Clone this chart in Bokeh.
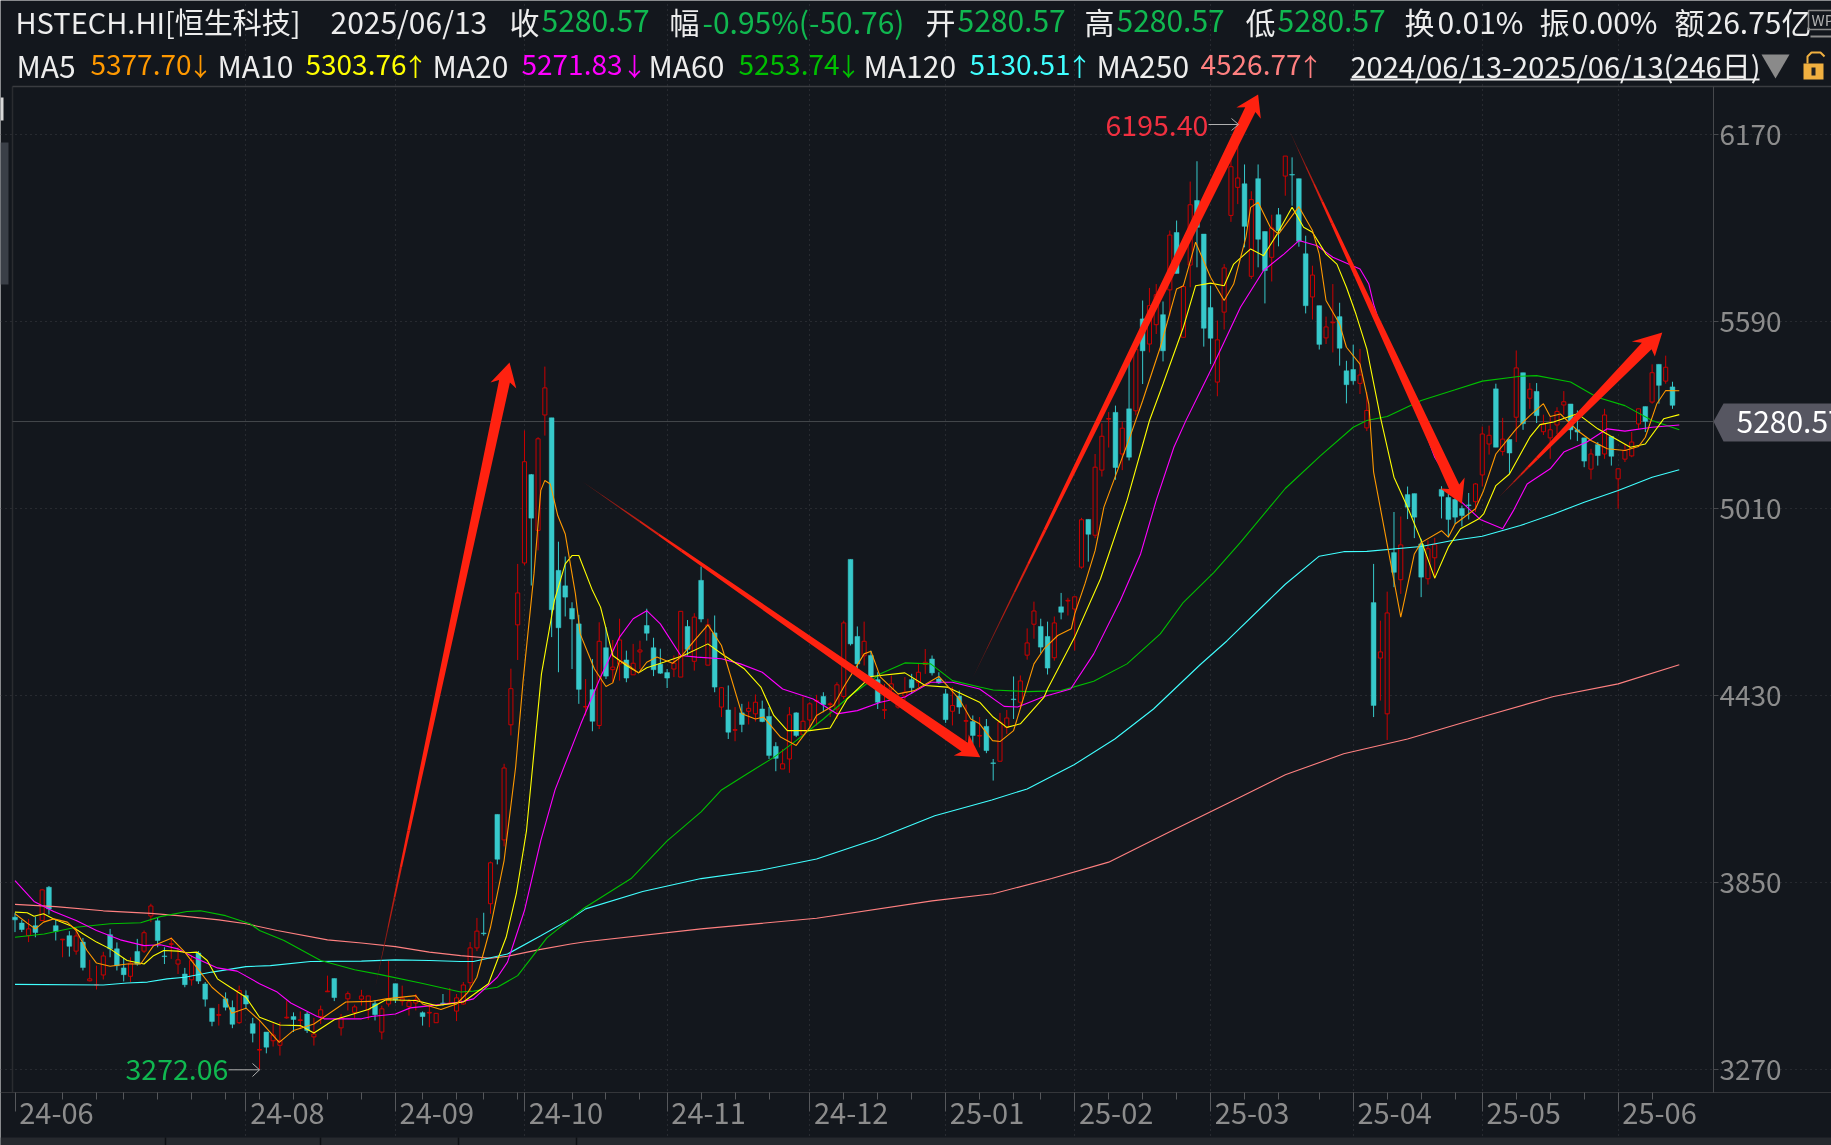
from bokeh.plotting import figure
from bokeh.embed import file_html
from bokeh.resources import INLINE
from bokeh.core.properties import value
from bokeh.models import LinearAxis, FixedTicker, Grid, Range1d

# ---------- candles (open, high, low, close) ----------
opens = [3743,3725,3686,3717,3733,3836,3717,3673,3686,3638,
 3666,3546,3533,3564,3689,3645,3586,3560,3637,3638,
 3747,3732,3623,3659,3598,3567,3549,3632,3536,3461,
 3439,3490,3463,3416,3500,3413,3331,3387,3360,3346,
 3431,3435,3423,3443,3372,3435,3512,3553,3400,3490,
 3448,3489,3456,3475,3387,3474,3537,3483,3466,3477,
 3447,3446,3416,3477,3475,3452,3474,3540,3648,3694,
 3785,4062,3983,4340,4650,4842,5116,4943,5301,5292,
 4819,4771,4701,4653,4395,4449,4338,4579,4511,4529,
 4541,4495,4566,4648,4579,4528,4502,4513,4488,4645,
 4537,4788,4525,4625,4395,4386,4323,4377,4382,4374,
 4389,4366,4273,4203,4234,4377,4309,4355,4413,4428,
 4403,4389,4428,4853,4614,4554,4555,4480,4385,4451,
 4395,4429,4480,4472,4527,4544,4482,4436,4382,4429,
 4351,4350,4305,4335,4222,4227,4332,4420,4410,4556,
 4652,4645,4614,4548,4706,4724,4699,4829,4977,4928,
 5130,5288,5309,5180,5320,5314,5599,5521,5581,5612,
 5689,5867,5542,5766,5966,5862,5634,5403,5620,5920,
 6007,6018,5731,6034,5870,5790,5922,6042,6047,6034,
 5801,5667,5640,5540,5587,5606,5438,5442,5399,5261,
 4719,4547,4374,4874,4790,5054,5057,4901,4793,4858,
 5070,5045,5039,5011,5022,5032,5115,5211,5382,5188,
 5225,5294,5432,5353,5374,5249,5230,5270,5332,5335,
 5255,5230,5133,5209,5180,5234,5103,5164,5174,5273,
 5327,5341,5458,5406,5388]
highs = [3757,3735,3738,3745,3831,3840,3735,3676,3700,3712,
 3679,3611,3593,3636,3707,3665,3617,3619,3676,3702,
 3785,3743,3650,3681,3650,3586,3624,3638,3542,3461,
 3474,3510,3485,3531,3516,3431,3423,3387,3414,3418,
 3485,3448,3451,3449,3431,3469,3562,3553,3443,3513,
 3472,3518,3499,3485,3469,3609,3537,3531,3490,3505,
 3451,3469,3445,3505,3524,3505,3542,3666,3741,3757,
 3916,4062,4219,4514,4839,5253,5118,5232,5451,5292,
 4908,4862,4720,4681,4482,4544,4658,4643,4603,4669,
 4570,4591,4601,4700,4610,4576,4513,4555,4692,4665,
 4686,4831,4669,4679,4457,4462,4395,4405,4412,4434,
 4415,4395,4286,4265,4395,4379,4428,4410,4433,4441,
 4410,4472,4663,4853,4645,4660,4570,4503,4467,4493,
 4436,4488,4498,4529,4575,4555,4503,4451,4457,4446,
 4403,4369,4364,4358,4234,4377,4386,4490,4493,4639,
 4722,4669,4660,4676,4749,4734,4737,4982,4977,5180,
 5275,5310,5330,5280,5469,5520,5656,5695,5707,5653,
 5873,5904,5707,6025,6088,5862,5702,5594,5769,6120,
 6195.40,6078,5995,6078,5870,5922,5943,6104,6100,6034,
 5857,5764,5640,5606,5707,5649,5469,5519,5506,5372,
 4839,4663,4753,5000,4986,5079,5057,4917,4912,4920,
 5080,5056,5056,5020,5059,5090,5265,5268,5398,5292,
 5225,5501,5432,5400,5400,5302,5294,5325,5375,5335,
 5315,5230,5196,5217,5320,5234,5134,5211,5248,5320,
 5327,5458,5458,5485,5404]
lows = [3697,3697,3666,3681,3731,3752,3671,3619,3621,3627,
 3578,3544,3519,3550,3619,3578,3544,3542,3593,3632,
 3728,3650,3598,3614,3567,3526,3531,3536,3466,3405,
 3407,3454,3399,3412,3459,3355,3272.06,3321,3342,3314,
 3428,3387,3396,3384,3345,3412,3511,3483,3376,3454,
 3431,3469,3425,3423,3364,3466,3477,3469,3438,3454,
 3407,3402,3416,3469,3472,3421,3472,3511,3638,3686,
 3754,3907,3963,4307,4541,4835,4772,4881,5237,4612,
 4503,4676,4513,4405,4369,4320,4327,4482,4472,4477,
 4472,4495,4513,4601,4491,4498,4454,4488,4488,4555,
 4508,4658,4525,4441,4364,4296,4289,4317,4341,4350,
 4348,4234,4196,4203,4191,4302,4307,4332,4338,4379,
 4364,4358,4420,4586,4513,4524,4482,4389,4358,4436,
 4390,4415,4436,4457,4498,4493,4467,4346,4338,4374,
 4290,4281,4270,4252,4167,4227,4312,4358,4389,4542,
 4607,4562,4496,4539,4667,4679,4570,4824,4846,4919,
 5110,5200,5100,5130,5160,5300,5397,5495,5552,5467,
 5609,5740,5542,5697,5759,5513,5459,5359,5566,5900,
 5955,5821,5723,5759,5647,5715,5824,5981,5950,5823,
 5616,5597,5504,5521,5495,5454,5337,5395,5366,5251,
 4364,4415,4293,4767,4746,4978,4919,4736,4775,4793,
 4980,4922,4963,4955,4977,5000,5079,5178,5201,5175,
 5118,5217,5255,5320,5276,5239,5165,5242,5302,5225,
 5220,5139,5101,5144,5165,5144,5010,5155,5170,5258,
 5248,5336,5336,5398,5320]
closes = [3735,3705,3707,3696,3828,3769,3699,3675,3653,3685,
 3587,3552,3534,3623,3645,3593,3565,3601,3598,3695,
 3778,3671,3621,3661,3611,3534,3609,3545,3489,3420,
 3441,3464,3411,3516,3474,3383,3333,3340,3378,3361,
 3433,3426,3425,3392,3381,3456,3514,3494,3431,3506,
 3465,3499,3499,3441,3459,3490,3487,3492,3481,3487,
 3435,3448,3445,3475,3477,3493,3533,3648,3700,3692,
 3912,3923,4206,4452,4749,5156,4981,5227,5385,4697,
 4641,4736,4668,4450,4397,4351,4599,4491,4519,4603,
 4485,4531,4572,4624,4511,4500,4485,4531,4692,4574,
 4674,4668,4650,4457,4455,4317,4325,4341,4391,4410,
 4350,4245,4236,4219,4371,4307,4351,4405,4415,4403,
 4405,4464,4656,4591,4529,4599,4488,4410,4387,4467,
 4405,4441,4455,4503,4534,4501,4470,4356,4400,4395,
 4353,4307,4307,4260,4220,4348,4361,4418,4476,4594,
 4693,4581,4516,4656,4689,4726,4737,4976,4931,5139,
 5235,5290,5138,5260,5170,5505,5500,5640,5674,5500,
 5859,5740,5699,5953,5883,5570,5539,5534,5757,6071,
 6036,5886,5969,5846,5749,5881,5873,6104,6045,5840,
 5640,5735,5520,5574,5589,5508,5395,5407,5425,5315,
 4400,4566,4687,4813,4898,5015,4984,4798,4886,4899,
 5049,4977,4984,4989,5020,5087,5242,5238,5201,5226,
 5183,5447,5274,5381,5299,5273,5255,5312,5342,5255,
 5248,5158,5180,5175,5301,5173,5134,5191,5217,5320,
 5281,5432,5393,5449,5331]

# ---------- moving averages, read at knots: candle position / level ----------
ma5_i = [0,1.8,3,4.2,5.7,7.7,9,10.6,12,14,16.5,18.5,20.4,23,25,26.8,29,31,31.9,34,36,38.9,41,44,48.7,52.4,54.6,59,60,62.7,65,66.7,68,70,72,73.7,74.8,76.4,77.4,78,78.8,79.9,81,81.5,82.5,83.2,85.3,87,88,89,90,91.8,93,94.5,96.8,98,100,102,104,107,109,110.2,112.7,115,117,118,120.5,122,125,126,127.4,130,132.4,136,137,139,140.7,142,143.9,145,147,148.5,150,151.5,153.5,155.5,156,157.5,159,160.3,164.2,166,168.6,171,172,173.8,176,178,179.4,181.2,181.9,183,184.8,186,189,191,192,193,195,196,198,199.3,200,201.8,204,206,207,210,211,212,215,216.2,218,221,223,225,226,227.5,230,232,234.4,237,239,240,241.7,243,245]
ma5_v = [3754,3725,3707,3728,3738,3728,3702,3640,3601,3591,3598,3598,3655,3678,3635,3586,3526,3490,3445,3461,3423,3355,3392,3412,3480,3482,3490,3500,3474,3457,3474,3511,3557,3712,3919,4209,4477,4808,5067,5098,5087,4989,4932,4870,4746,4622,4513,4459,4470,4539,4529,4501,4534,4550,4531,4550,4601,4650,4586,4374,4358,4364,4302,4276,4332,4369,4400,4457,4560,4568,4488,4436,4446,4490,4467,4420,4358,4343,4291,4288,4322,4426,4529,4576,4617,4638,4684,4777,4880,5015,5237,5345,5511,5692,5702,5837,5728,5656,5707,5852,5945,5961,5883,5862,5947,5873,5800,5656,5583,5511,5459,5335,5124,4922,4674,4870,4905,4942,4922,4963,5010,5067,5180,5258,5299,5336,5296,5304,5253,5222,5196,5191,5203,5232,5336,5377,5376]
ma10_i = [0,1.8,2.8,4.2,5.7,8.2,10,12,14,16.5,19,20.4,21.9,24,25.3,26.8,28.3,29.8,31.7,34,36,39,42,44,47,52,54.6,59,62,66,69.7,72.3,73.8,75.3,77.5,79.4,81,82,83,85,86.2,88,90,91.8,93,95.5,98.4,102,104.4,107.4,109.8,111.7,113.7,117,120,122.5,126,131,134,137.2,142,144,146,148,151.5,152,156,159.8,163.7,167,169,172,173.8,176,178,179.4,181.9,183.8,185.8,188,189.7,191,193,194.6,196,197.4,199,201,203,205,207,209,211,212.8,215.5,216.2,218,220,223,224.5,226.5,230,233,237.8,240,242.7,245]
ma10_v = [3759,3757,3746,3754,3738,3717,3692,3666,3645,3609,3598,3624,3640,3638,3633,3635,3609,3552,3526,3495,3433,3409,3407,3384,3425,3457,3487,3485,3469,3480,3537,3681,3816,4012,4498,4725,4839,4865,4865,4757,4705,4555,4524,4501,4517,4534,4555,4591,4555,4513,4457,4369,4322,4322,4330,4420,4490,4501,4462,4457,4410,4364,4332,4343,4426,4451,4612,4793,5036,5283,5397,5573,5702,5710,5702,5769,5816,5795,5862,5945,5883,5868,5800,5769,5697,5614,5506,5294,5108,5015,4912,4795,4891,4948,4979,4994,5082,5118,5232,5271,5279,5305,5258,5201,5211,5289,5302]
ma20_i = [0,2.8,5.7,9,12,15.5,19,21.4,24,26.3,29.8,32.7,36,38.6,40.6,44.5,45.5,51,52.5,56,58.2,62.6,65.6,67.5,71,72.5,75,77.4,79.5,83.3,86.2,89,91,93,95,98,100.4,104,106.8,110,113,117.5,121,124,127.4,131,134.8,138,142,145.6,147.6,151.5,155.4,158.8,162.7,165.7,168,170.6,172.4,176.5,180.4,183.8,186.8,189,191.7,194,198,199.3,200,202,204,207,209,213,215.7,219,220.6,222.6,226,228,231.4,234.4,237,241,245]
ma20_v = [3857,3792,3761,3733,3702,3673,3655,3658,3645,3619,3586,3576,3537,3511,3477,3435,3428,3428,3435,3443,3462,3472,3480,3490,3557,3604,3764,3981,4138,4343,4488,4612,4669,4694,4653,4555,4550,4545,4529,4503,4451,4420,4374,4384,4410,4426,4472,4472,4451,4397,4395,4428,4451,4560,4725,4870,5036,5201,5285,5460,5635,5749,5800,5842,5826,5790,5754,5707,5645,5511,5418,5284,5170,5030,4977,4948,5005,5087,5134,5186,5217,5258,5251,5263,5270]
ma60_i = [0,4.3,6.7,9,14,18.5,21.4,25.3,27.3,31,34.6,36,39.6,45,50,53.8,59.7,65.6,67.5,71,74,78.3,81.8,83.8,90.7,96,101,104,107.8,111.7,115,119,123,127.4,131,134.8,138,142,144,149,154,158.8,163.7,168.6,172,176.5,180.4,187,192.2,197,199,202,207,212,216,221.6,224,229,232.9,237,241,245]
ma60_v = [3681,3691,3702,3712,3723,3726,3745,3761,3763,3748,3723,3702,3671,3609,3580,3565,3539,3511,3514,3526,3562,3679,3738,3772,3863,3980,4070,4138,4188,4239,4291,4358,4431,4498,4532,4529,4477,4457,4448,4443,4446,4475,4529,4622,4720,4813,4906,5073,5175,5263,5284,5296,5346,5379,5406,5421,5423,5403,5356,5330,5284,5255]
ma120_i = [0,13,16.5,19.5,22.4,25,29,34,37.6,43.5,51,56,61,65.6,67.5,72.5,77.4,81.8,84,92.4,101,109.6,118,126.8,135.4,143.8,149,155.9,161.9,167.6,174.5,178.4,187,192,195.6,199,207,211.4,216,221.6,226.5,231,236,241,245]
ma120_v = [3535,3533,3539,3542,3552,3557,3573,3590,3593,3606,3607,3611,3609,3606,3606,3629,3686,3738,3769,3823,3863,3888,3924,3986,4058,4107,4141,4216,4296,4389,4527,4600,4776,4863,4877,4878,4893,4911,4925,4958,4994,5030,5067,5108,5131]
ma250_i = [0,6,13,20,24,30,34,38.6,46,51,56,61,65.6,70,72.5,77,81.8,84,101,118,135,144,152.6,161,170,178.4,187,195.6,205,216.7,226.5,236,245]
ma250_v = [3783,3776,3763,3755,3748,3735,3723,3702,3673,3663,3652,3635,3624,3616,3622,3642,3660,3667,3707,3740,3794,3816,3863,3914,4008,4095,4185,4250,4296,4369,4428,4467,4526]

ma_series = [(ma250_i, ma250_v, "#FF8080"), (ma120_i, ma120_v, "#40FFFF"), (ma60_i, ma60_v, "#00C000"),
             (ma20_i, ma20_v, "#FF00FF"), (ma10_i, ma10_v, "#FFFF00"), (ma5_i, ma5_v, "#FF9900")]

# ---------- axis content ----------
y_ticks = [3270, 3850, 4430, 5010, 5590, 6170]
month_labels = ["24-06","24-08","24-09","24-10","24-11","24-12","25-01","25-02","25-03","25-04","25-05","25-06"]
month_start = [0, 34, 56, 75, 96, 117, 137, 156, 176, 197, 216, 236]
week_ticks = [7,12,16,21,26,31,36,41,46,51,60,65,69,74,82,87,92,101,106,111,122,127,132,142,147,151,161,166,171,181,186,192,202,207,212,221,226,231,241]
last_price = 5280.57

# ---------- hand-drawn arrows on the chart: tail, tip, barb, barb (candle position, level) ----------
arrow_tail_i = [53, 83.5, 141, 187.6, 218.4]
arrow_tail_v = [3522, 5095, 4487, 6183, 5045]
arrow_tip_i = [72.8, 142.1, 183, 213, 242.5]
arrow_tip_v = [5464, 4239, 6295, 5026, 5557]
arrow_b1_i = [70, 138.2, 179.8, 209.8, 238]
arrow_b1_v = [5402, 4245, 6255, 5073, 5529]
arrow_b2_i = [73.8, 140.4, 183.4, 213.4, 241.4]
arrow_b2_v = [5383, 4310, 6220, 5107, 5482]

BG = "#13171D"
TEAL = "#37C9CB"
RED = "#CC0000"
FONT = value("Noto Sans CJK SC")
GREY = "#8C8C8C"
WHITE = "#EDEDED"
GREEN = "#10B850"

def fx(x):
    return (x - 14.5) / 6.793
def fy(y):
    return 6170 - (y - 134.3) * 3.1017

W, H = 1831, 1145
p = figure(width=W, height=H, output_backend="svg", toolbar_location=None,
           x_range=Range1d(fx(0), fx(W)), y_range=Range1d(fy(H), fy(0)),
           x_axis_type=None, y_axis_type=None,
           min_border=0, min_border_left=0, min_border_right=0, min_border_top=0, min_border_bottom=0,
           background_fill_color=BG, border_fill_color=BG, outline_line_color=None,
           styles={"position": "fixed", "left": "0px", "top": "0px"})
p.grid.visible = False

ax_x, ax_right = fx(12), fx(1713)
ax_top, ax_bot = fy(86), fy(1092)

# grids
p.add_layout(Grid(dimension=1, ticker=FixedTicker(ticks=y_ticks), bounds=(ax_x, ax_right),
                  grid_line_color="#3C3F44", grid_line_dash="1 4", grid_line_width=1))
p.add_layout(Grid(dimension=0, ticker=FixedTicker(ticks=month_start[1:]), bounds=(ax_bot, ax_top),
                  grid_line_color="#3C3F44", grid_line_dash="1 4", grid_line_width=1))

# y axis
yax = LinearAxis(fixed_location=ax_right, ticker=FixedTicker(ticks=y_ticks), bounds=(ax_bot, ax_top),
                 axis_line_color="#46484C", major_tick_line_color="#46484C", major_tick_out=5, major_tick_in=0,
                 minor_tick_line_color=None, major_label_text_color=GREY, major_label_text_font="Noto Sans CJK SC",
                 major_label_text_font_size="28px", major_label_standoff=1, major_label_orientation="horizontal")
p.add_layout(yax, "right")

# x axis: month labels sit to the right of their tick
label_pos = [m + 6.1 for m in month_start]
xax = LinearAxis(fixed_location=ax_bot, ticker=FixedTicker(ticks=label_pos, minor_ticks=week_ticks),
                 major_label_overrides={k: v for k, v in zip(label_pos, month_labels)},
                 axis_line_color="#34363A", major_tick_line_color=None, minor_tick_line_color="#55575B",
                 minor_tick_out=7, minor_tick_in=0, major_label_text_color=GREY, major_label_text_font="Noto Sans CJK SC",
                 major_label_text_font_size="29px", major_label_standoff=3)
p.add_layout(xax, "below")
xax2 = LinearAxis(fixed_location=ax_bot, ticker=FixedTicker(ticks=month_start),
                  major_label_overrides={m: "" for m in month_start}, axis_line_color=None,
                  major_tick_line_color="#55575B", major_tick_out=19, major_tick_in=0, minor_tick_line_color=None)
p.add_layout(xax2, "below")

# frame lines, header separator, bottom band
p.segment([ax_x], [ax_bot], [ax_x], [ax_top], line_color="#2A2C30", line_width=1.5)
p.segment([ax_x], [fy(86)], [fx(W)], [fy(86)], line_color="#3A3C40", line_width=1.5)
p.quad(left=[fx(0)], right=[fx(W)], bottom=[fy(H)], top=[fy(1137)], fill_color="#26292E", line_color=None)
p.segment([fx(x) for x in (165, 320, 458, 576)], [fy(1137)]*4, [fx(x) for x in (165, 320, 458, 576)], [fy(H)]*4,
          line_color="#0E1014", line_width=1.5)
p.quad(left=[fx(0)], right=[fx(8)], bottom=[fy(284)], top=[fy(142)], fill_color="#3A3F47", line_color=None)
p.quad(left=[fx(0)], right=[fx(3)], bottom=[fy(120)], top=[fy(97)], fill_color="#D8D8D8", line_color=None)

# last price line
p.segment([ax_x], [last_price], [ax_right], [last_price], line_color="#46494D", line_width=1)

# candles
idx = list(range(len(opens)))
up = [i for i in idx if closes[i] >= opens[i]]
dn = [i for i in idx if closes[i] < opens[i]]
p.segment([i for i in up], [highs[i] for i in up], [i for i in up], [lows[i] for i in up], line_color=RED, line_width=1)
p.segment([i for i in dn], [highs[i] for i in dn], [i for i in dn], [lows[i] for i in dn], line_color=TEAL, line_width=1)
p.vbar(x=up, width=0.6, top=[closes[i] for i in up], bottom=[opens[i] for i in up], fill_color=BG, line_color=RED, line_width=1)
p.vbar(x=dn, width=0.7, top=[opens[i] for i in dn], bottom=[closes[i] for i in dn], fill_color=TEAL, line_color=TEAL, line_width=0.5)

# moving averages
for xs, ys, col in ma_series:
    p.line(xs, ys, line_color=col, line_width=1.1)

# hand-drawn tapered arrows, tail fades into the background
def mix(t):
    t = 0.25 + 0.75 * t
    a = (0x13, 0x17, 0x1D)
    b = (0xFF, 0x22, 0x10)
    return "#%02X%02X%02X" % tuple(int(a[k] + (b[k] - a[k]) * t) for k in range(3))

for k in range(len(arrow_tail_i)):
    ti, tv = arrow_tail_i[k], arrow_tail_v[k]
    hi, hv = arrow_tip_i[k], arrow_tip_v[k]
    b1i, b1v, b2i, b2v = arrow_b1_i[k], arrow_b1_v[k], arrow_b2_i[k], arrow_b2_v[k]
    mi, mv = (b1i + b2i) / 2, (b1v + b2v) / 2
    ni, nv = mi + 0.18 * (hi - mi), mv + 0.18 * (hv - mv)
    n1 = (ni + 0.42 * (b1i - mi), nv + 0.42 * (b1v - mv))
    n2 = (ni + 0.42 * (b2i - mi), nv + 0.42 * (b2v - mv))
    def at(t):
        return ((ti + (n1[0] - ti) * t, tv + (n1[1] - tv) * t), (ti + (n2[0] - ti) * t, tv + (n2[1] - tv) * t))
    cuts = [0, 0.05, 0.1, 0.15, 0.2, 0.26]
    for c0, c1 in zip(cuts[:-1], cuts[1:]):
        a0, a1 = at(c0), at(c1)
        p.patch([a0[0][0], a1[0][0], a1[1][0], a0[1][0]], [a0[0][1], a1[0][1], a1[1][1], a0[1][1]],
                fill_color=mix((c0 + 0.05) / 0.26), line_color=None)
    a = at(0.26)
    p.patch([a[0][0], n1[0], b1i, hi, b2i, n2[0], a[1][0]], [a[0][1], n1[1], b1v, hv, b2v, n2[1], a[1][1]],
            fill_color="#FF2210", line_color=None)

def txt(x, y, s, col, size=29, align="left"):
    p.text([fx(x)], [fy(y)], text=[s], text_color=col, text_font=FONT, text_font_size=value(f"{size}px"),
           text_baseline="middle", text_align=align)

# extreme labels
txt(1105, 125, "6195.40", "#F03040", 28.5)
p.segment([fx(1208)], [fy(124)], [fx(1237)], [fy(124)], line_color="#B0B0B0", line_width=1)
p.line([fx(1231), fx(1238), fx(1231)], [fy(118), fy(124), fy(130)], line_color="#B0B0B0", line_width=1)
txt(125, 1069, "3272.06", GREEN, 28.5)
p.segment([fx(228)], [fy(1069.3)], [fx(259)], [fy(1069.3)], line_color="#B0B0B0", line_width=1)
p.line([fx(252), fx(259), fx(252)], [fy(1063), fy(1069.3), fy(1076)], line_color="#B0B0B0", line_width=1)

# last price tag
p.patch([fx(1713), fx(1723), fx(1831), fx(1831), fx(1723)], [fy(421), fy(403), fy(403), fy(441), fy(441)],
        fill_color="#565661", line_color=None)
txt(1736, 421, "5280.57", "#FFFFFF", 30)

# header rows (x, text, colour, size)
row1 = [(15, "HSTECH.HI[恒生科技]", WHITE, 29), (330, "2025/06/13", WHITE, 30), (509, "收", WHITE, 30), (541, "5280.57", GREEN, 30),
        (669, "幅", WHITE, 30), (702, "-0.95%(-50.76)", GREEN, 30), (925, "开", WHITE, 30), (957, "5280.57", GREEN, 30),
        (1084, "高", WHITE, 30), (1116, "5280.57", GREEN, 30), (1245, "低", WHITE, 30), (1277, "5280.57", GREEN, 30),
        (1404, "换", WHITE, 30), (1437, "0.01%", WHITE, 30), (1539, "振", WHITE, 30), (1571, "0.00%", WHITE, 30),
        (1674, "额", WHITE, 30), (1706, "26.75亿", WHITE, 30)]
row2 = [(16, "MA5", WHITE, 30), (90, "5377.70", "#FF9900", 28), (217, "MA10", WHITE, 30), (305, "5303.76", "#FFFF00", 28),
        (432, "MA20", WHITE, 30), (521, "5271.83", "#FF00FF", 28), (648, "MA60", WHITE, 30), (738, "5253.74", "#00C000", 28),
        (863, "MA120", WHITE, 30), (969, "5130.51", "#40FFFF", 28), (1096, "MA250", WHITE, 30), (1200, "4526.77", "#FF8080", 28),
        (1350, "2024/06/13-2025/06/13(246日)", WHITE, 29)]
ma_arrows = [(200, "↓", "#FF9900"), (415, "↑", "#FFFF00"), (634, "↓", "#FF00FF"), (848, "↓", "#00C000"),
             (1079, "↑", "#40FFFF"), (1310, "↑", "#FF8080")]
for x, s, c, z in row1:
    txt(x, 20.5, s, c, z)
for x, s, c, z in row2:
    txt(x, 64, s, c, z)
for x, s, c in ma_arrows:
    txt(x, 64, s, c, 25, "center")
p.segment([fx(1350)], [fy(79)], [fx(1759)], [fy(79)], line_color="#EDEDED", line_width=2)
p.patch([fx(1761), fx(1789), fx(1775)], [fy(54), fy(54), fy(78)], fill_color="#8A8A8A", line_color=None)

# lock and monitor icons
p.quad(left=[fx(1803)], right=[fx(1823)], top=[fy(63)], bottom=[fy(79)], fill_color="#F0B040", line_color=None)
p.line([fx(1807), fx(1807), fx(1811), fx(1820), fx(1824)], [fy(63), fy(56), fy(52), fy(52), fy(56)], line_color="#F0B040", line_width=2)
p.quad(left=[fx(1811)], right=[fx(1815)], top=[fy(67)], bottom=[fy(75)], fill_color="#222222", line_color=None)
p.quad(left=[fx(1808)], right=[fx(1833)], top=[fy(10)], bottom=[fy(29)], fill_color=None, line_color="#8A8A8A", line_width=1.5)
p.segment([fx(1810)], [fy(36)], [fx(1831)], [fy(36)], line_color="#8A8A8A", line_width=2)
txt(1811, 19, "WP", "#B0B0B0", 15)

open("out.html", "w").write(file_html(p, INLINE))
